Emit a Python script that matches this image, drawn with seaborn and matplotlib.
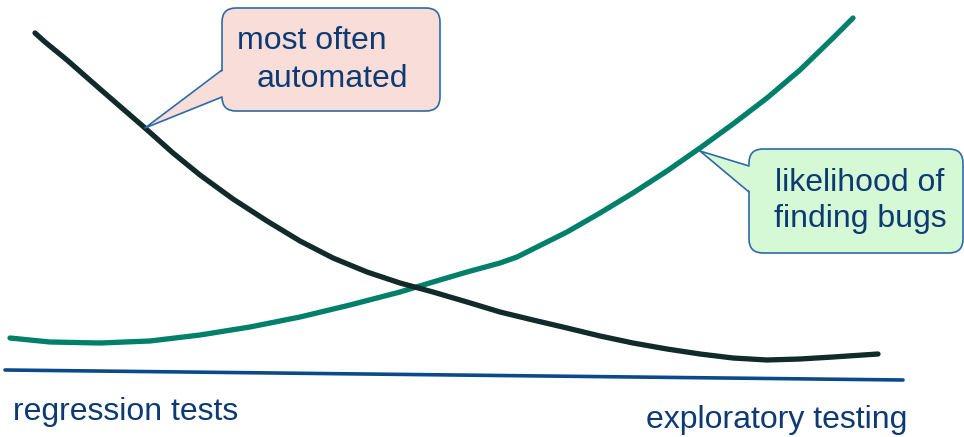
import matplotlib
matplotlib.use("Agg")
import matplotlib.pyplot as plt
import seaborn as sns
import pandas as pd
from matplotlib.patches import FancyBboxPatch, Polygon

sns.set_theme(style="white")
plt.rcParams['font.family'] = ['Liberation Sans', 'DejaVu Sans']

# Curves (pixel coordinates, y downward)
automated_x = [35, 45, 67, 100, 145, 173, 200, 233, 267, 300, 333, 367, 400, 433,
               467, 500, 533, 567, 600, 633, 667, 700, 733, 767, 800, 833, 878]
automated_y = [33, 42, 60, 89, 128, 153, 175, 199, 221, 241, 258, 272, 283, 292,
               302, 312, 320, 328, 336, 343, 349, 354, 358, 360, 359, 357, 354]
bugs_x = [10, 50, 100, 150, 200, 250, 300, 350, 400, 433, 467, 500, 517, 533, 567,
          600, 633, 667, 700, 733, 767, 800, 833, 853]
bugs_y = [338, 342, 343, 341, 335, 327, 317, 305, 292, 282, 272, 263, 257, 249, 232,
          213, 193, 171, 148, 124, 98, 70, 38, 18]
base_x = [5, 903]
base_y = [370, 380]

label_left = "regression tests"
label_right = "exploratory testing"
callout1_lines = ["most often", "automated"]
callout2_lines = ["likelihood of", "finding bugs"]

text_color = "#0d3a73"
FS = 23

fig = plt.figure(figsize=(9.64, 4.37), dpi=100)
ax = fig.add_axes([0, 0, 1, 1])

df_a = pd.DataFrame({"x": automated_x, "y": automated_y})
df_b = pd.DataFrame({"x": bugs_x, "y": bugs_y})
df_base = pd.DataFrame({"x": base_x, "y": base_y})

sns.lineplot(data=df_base, x="x", y="y", ax=ax, color="#0b4a8a", linewidth=2.6, sort=False)
sns.lineplot(data=df_b, x="x", y="y", ax=ax, color="#00806a", linewidth=3.8, sort=False,
             solid_capstyle="round", solid_joinstyle="round")
sns.lineplot(data=df_a, x="x", y="y", ax=ax, color="#112a2a", linewidth=3.8, sort=False,
             solid_capstyle="round", solid_joinstyle="round")

ax.set_xlim(0, 964)
ax.set_ylim(437, 0)
ax.axis("off")


def callout(x0, y0, x1, y1, tip, b1, b2, fc, ec):
    box = FancyBboxPatch((x0, y0), x1 - x0, y1 - y0,
                         boxstyle="round,pad=0,rounding_size=14",
                         fc=fc, ec=ec, lw=1.2, zorder=5)
    ax.add_patch(box)
    tri = Polygon([tip, (b1[0] + 2, b1[1]), (b2[0] + 2, b2[1])], closed=True,
                  fc=fc, ec="none", zorder=6)
    ax.add_patch(tri)
    ax.plot([b1[0], tip[0], b2[0]], [b1[1], tip[1], b2[1]], color=ec, lw=1.2, zorder=7)


callout(222, 8, 440, 111, (145, 128), (222, 70), (222, 97), "#f8ddd8", "#2e6aa5")
callout(749, 149, 963, 253, (700, 151), (749, 166), (749, 192), "#d5f8d5", "#2e6aa5")

ax.text(237, 41, callout1_lines[0], ha="left", va="center", color=text_color, fontsize=FS, zorder=8)
ax.text(257, 79, callout1_lines[1], ha="left", va="center", color=text_color, fontsize=FS, zorder=8)
ax.text(860, 183, callout2_lines[0], ha="center", va="center", color=text_color, fontsize=FS, zorder=8)
ax.text(860, 219, callout2_lines[1], ha="center", va="center", color=text_color, fontsize=FS, zorder=8)

ax.text(13, 412, label_left, ha="left", va="center", color=text_color, fontsize=FS)
ax.text(907, 420, label_right, ha="right", va="center", color=text_color, fontsize=FS)

fig.savefig("out.png", dpi=100)
